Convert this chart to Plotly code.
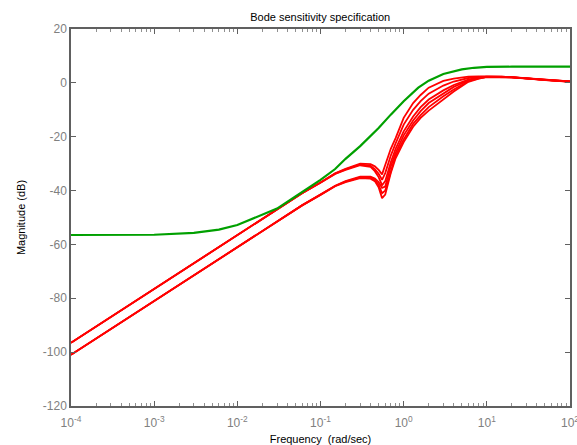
import plotly.graph_objects as go

# ---------------- data ----------------
freq_red = [1e-4, 1e-3, 1e-2, 0.03, 0.06, 0.1, 0.15, 0.2, 0.3, 0.4, 0.45, 0.5, 0.55, 0.6,
            0.7, 0.8, 1.0, 1.3, 1.6, 2, 3, 4, 6, 8, 10, 15, 20, 30, 50, 100]

red_A1 = [-96.5, -76.5, -56.5, -47.0, -41.0, -37.0, -33.6, -31.9, -30.0, -30.2, -31.0, -32.3, -34.0, -30.5,
          -24.5, -20.5, -13.0, -7.5, -4.5, -1.8, 0.7, 1.6, 2.3, 2.4, 2.4, 2.3, 2.1, 1.7, 1.1, 0.5]
red_A2 = [-96.5, -76.5, -56.5, -47.0, -41.0, -37.0, -33.7, -32.1, -30.3, -30.8, -32.0, -33.8, -36.0, -33.5,
          -27.0, -22.5, -15.5, -10.0, -6.8, -4.0, -1.0, 0.5, 1.8, 2.2, 2.35, 2.3, 2.1, 1.7, 1.1, 0.5]
red_A3 = [-96.5, -76.5, -56.5, -47.0, -41.0, -37.1, -33.8, -32.3, -30.6, -31.2, -32.8, -35.0, -38.0, -36.5,
          -29.5, -24.5, -18.0, -12.5, -9.0, -6.2, -2.8, -0.8, 1.2, 2.0, 2.3, 2.25, 2.05, 1.65, 1.05, 0.45]
red_B1 = [-101.0, -81.0, -61.0, -51.5, -45.5, -41.5, -38.2, -36.5, -34.8, -34.8, -35.5, -36.8, -39.0, -38.5,
          -31.0, -26.0, -19.5, -14.0, -10.5, -7.5, -3.8, -1.5, 0.9, 1.9, 2.25, 2.3, 2.1, 1.7, 1.1, 0.5]
red_B2 = [-101.0, -81.0, -61.0, -51.5, -45.5, -41.5, -38.3, -36.7, -35.1, -35.2, -36.0, -37.8, -41.0, -40.0,
          -32.5, -27.0, -21.0, -15.2, -12.0, -9.0, -5.0, -2.5, 0.6, 1.7, 2.2, 2.25, 2.05, 1.65, 1.05, 0.45]
red_B3 = [-101.0, -81.0, -61.0, -51.5, -45.5, -41.6, -38.4, -36.9, -35.4, -35.6, -36.5, -38.8, -42.8, -41.5,
          -33.5, -28.0, -22.0, -16.3, -13.0, -10.3, -6.0, -3.2, 0.4, 1.6, 2.15, 2.2, 2.0, 1.6, 1.0, 0.4]

freq_green = [1e-4, 1e-3, 3e-3, 6e-3, 1e-2, 0.015, 0.02, 0.03, 0.05, 0.07, 0.1, 0.15, 0.2, 0.3,
              0.5, 0.7, 1.0, 1.5, 2, 3, 5, 7, 10, 20, 50, 100]
green_spec = [-56.5, -56.4, -55.7, -54.5, -52.8, -50.6, -48.8, -46.7, -42.2, -39.2, -36.0, -32.0, -28.2, -23.5,
              -16.8, -11.8, -6.8, -1.8, 0.8, 3.3, 5.0, 5.6, 5.9, 6.0, 6.0, 6.0]

x_tickvals = [1e-4, 1e-3, 1e-2, 1e-1, 1e0, 1e1, 1e2]
x_ticktext = ["10<sup>-4</sup>", "10<sup>-3</sup>", "10<sup>-2</sup>", "10<sup>-1</sup>",
              "10<sup>0</sup>", "10<sup>1</sup>", "10<sup>2</sup>"]
y_tickvals = [-120, -100, -80, -60, -40, -20, 0, 20]
y_ticktext = ["-120", "-100", "-80", "-60", "-40", "-20", "0", "20"]

# ---------------- figure ----------------
fig = go.Figure()
for ys in [red_A1, red_A2, red_A3, red_B1, red_B2, red_B3]:
    fig.add_trace(go.Scatter(x=freq_red, y=ys, mode="lines",
                             line=dict(color="#ff0000", width=1.8), showlegend=False))
fig.add_trace(go.Scatter(x=freq_green, y=green_spec, mode="lines",
                         line=dict(color="#00a000", width=2.2), showlegend=False))

axis_col = "#606060"
FONT = "Liberation Sans, Arial, sans-serif"
tick_font = dict(family=FONT, size=12, color="#808080")

fig.update_layout(
    width=577, height=445,
    margin=dict(l=71, r=7, t=29, b=39),
    paper_bgcolor="white", plot_bgcolor="white",
    title=dict(text="Bode sensitivity specification", x=0.555, xanchor="center", y=0.962, yanchor="middle",
               font=dict(family=FONT, size=11, color="black")),
    xaxis=dict(type="log", range=[-4, 2], tickvals=x_tickvals, ticktext=x_ticktext,
               automargin=False, ticklabeloverflow="allow", ticklabelstandoff=5,
               showgrid=False, zeroline=False, showline=True, linecolor=axis_col, linewidth=1.5,
               mirror="ticks", ticks="inside", ticklen=5, tickcolor=axis_col, tickfont=tick_font,
               minor=dict(ticks="inside", ticklen=3, tickcolor="#909090", dtick="D1", showgrid=False),
               title=dict(text="Frequency  (rad/sec)",
                          font=dict(family=FONT, size=11, color="black"))),
    yaxis=dict(range=[-120, 20], tickvals=y_tickvals, ticktext=y_ticktext,
               automargin=False, ticklabeloverflow="allow",
               showgrid=False, zeroline=False,
               showline=True, linecolor=axis_col, linewidth=1.5, mirror="ticks",
               ticks="inside", ticklen=5, tickcolor=axis_col, tickfont=tick_font,
               title=dict(text="Magnitude (dB)",
                          font=dict(family=FONT, size=11, color="black"))),
)

fig.write_html("out.html", config={"displayModeBar": False},
               post_script="document.body.style.margin='0';")
